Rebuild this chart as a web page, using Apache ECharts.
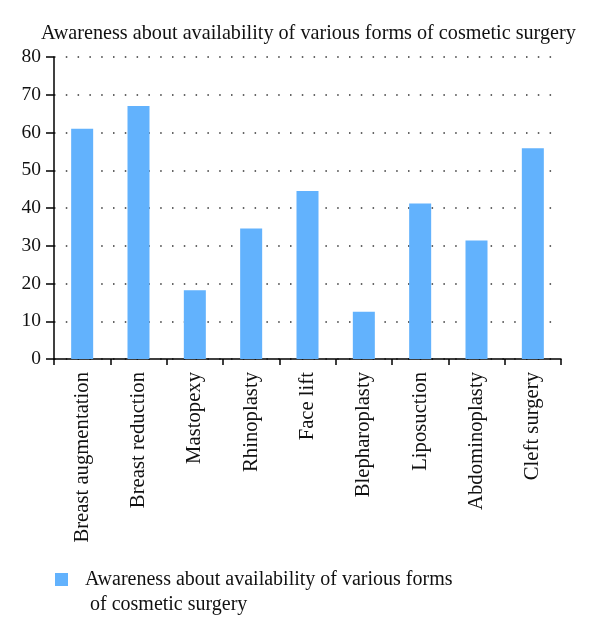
<!DOCTYPE html>
<html><head><meta charset="utf-8">
<script src="https://cdn.jsdelivr.net/npm/echarts@6/dist/echarts.min.js"></script>
<style>html,body{margin:0;padding:0;background:#fff}#c{width:600px;height:640px}</style>
</head><body><div id="c"></div>
<script>
const categories = ["Breast augmentation","Breast reduction","Mastopexy","Rhinoplasty","Face lift","Blepharoplasty","Liposuction","Abdominoplasty","Cleft surgery"];
const values = [61, 67, 18.2, 34.6, 44.5, 12.5, 41.2, 31.4, 55.8];
const seriesName = "Awareness about availability of various forms of cosmetic surgery";
const legendLines = ["Awareness about availability of various forms", " of cosmetic surgery"];
const yTicks = {min: 0, max: 80, interval: 10};

const FONT = "Liberation Serif";
const chart = echarts.init(document.getElementById('c'), null, {renderer: 'canvas'});
chart.setOption({
  animation: false,
  backgroundColor: '#fff',
  title: {
    text: seriesName, left: 36, top: 19,
    textStyle: {fontFamily: FONT, fontSize: 20.2, fontWeight: 'normal', color: '#111'}
  },
  legend: {
    left: 50, top: 537, itemWidth: 13, itemHeight: 13, icon: 'rect',
    formatter: () => "\n" + legendLines.join("\n"),
    textStyle: {fontFamily: FONT, fontSize: 20, color: '#111', lineHeight: 25, padding: [0,0,0,12]},
    data: [seriesName]
  },
  grid: {left: 54, right: 39, top: 57, bottom: 281, containLabel: false},
  xAxis: {
    type: 'category', data: categories,
    axisLine: {lineStyle: {color: '#000', width: 1.5}},
    axisTick: {show: true, length: 6, alignWithLabel: false, lineStyle: {color: '#000', width: 1.5}},
    axisLabel: {rotate: 90, interval: 0, margin: 13, fontFamily: FONT, fontSize: 20.7, color: '#111'}
  },
  yAxis: {
    type: 'value', min: yTicks.min, max: yTicks.max, interval: yTicks.interval,
    axisLine: {show: true, lineStyle: {color: '#000', width: 1.5}},
    axisTick: {show: true, length: 8, lineStyle: {color: '#000', width: 1.5}},
    axisLabel: {margin: 13, fontFamily: FONT, fontSize: 19.5, color: '#111'},
    splitLine: {show: true, lineStyle: {color: '#333', width: 1.5, type: [1.5, 10.3]}}
  },
  series: [{
    name: seriesName, type: 'bar', data: values, barWidth: 22,
    itemStyle: {color: '#62B2FD'}
  }]
});
</script></body></html>
